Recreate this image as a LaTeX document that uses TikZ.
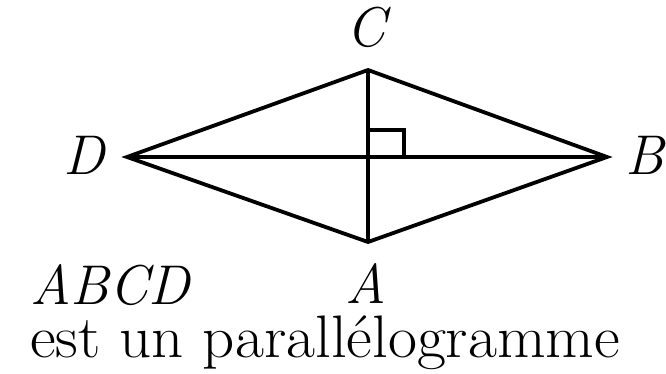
\documentclass[tikz,border=0pt]{standalone}
\usepackage{graphicx}
\begin{document}
\begin{tikzpicture}[x=1pt,y=-1pt,
  seg/.style={line width=3.8pt, black},
  lbl/.style={inner sep=0pt, outer sep=0pt, font=\fontsize{56}{60}\selectfont\itshape},
  txt/.style={inner sep=0pt, outer sep=0pt, font=\fontsize{60}{62}\selectfont}]
\useasboundingbox (0,0) rectangle (666,374);
\coordinate (C) at (368,70);
\coordinate (B) at (607,157);
\coordinate (A) at (368,242);
\coordinate (D) at (127,157);
\coordinate (O) at (368,157);
\coordinate (R1) at (404,157);
\coordinate (R2) at (404,130);
\coordinate (R3) at (368,130);
\draw[seg] (C) -- (B) -- (A) -- (D) -- cycle;
\draw[seg] (D) -- (B);
\draw[seg] (C) -- (A);
\draw[seg, line width=3.4pt] (R3) -- (R2) -- (R1);
\node[lbl, anchor=base] (lC) at (366,47) {C};
\node[lbl, anchor=base] (lD) at (84,175) {D};
\node[lbl, anchor=base] (lB) at (645,175) {B};
\node[lbl, anchor=base] (lA) at (366,303) {A};
\node[lbl, anchor=base west] (lABCD) at (30,304) {ABCD};
\node[txt, anchor=base west] (t) at (30,357) {\scalebox{1.05}[1]{est un parallélogramme}};
\end{tikzpicture}
\end{document}
